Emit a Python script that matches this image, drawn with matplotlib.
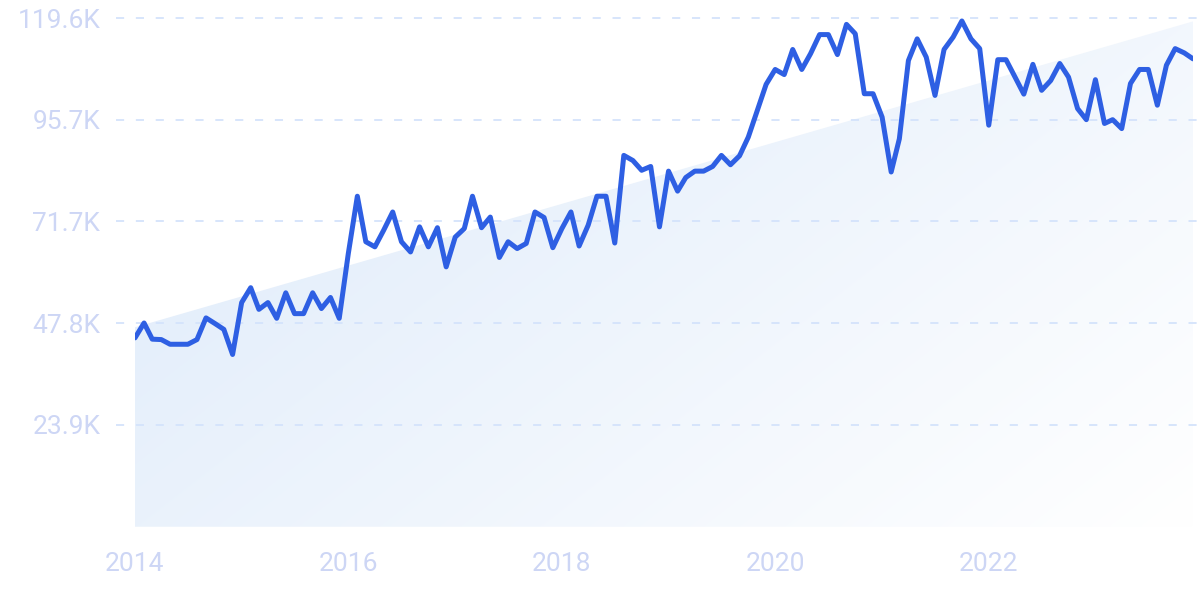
import numpy as np
import pandas as pd
import matplotlib
matplotlib.use("Agg")
import matplotlib.pyplot as plt
from matplotlib.patches import Polygon

# ---- data ----
start_month = "2014-01"
values_k = [
    44.4, 47.9, 44.1, 44.0, 42.9, 42.9, 42.9, 44.0, 49.1, 47.8, 46.4, 40.5,
    52.7, 56.2, 51.1, 52.7, 49.0, 55.0, 50.1, 50.1, 55.0, 51.3, 53.9, 49.0,
    64.2, 77.7, 67.0, 65.8, 69.7, 74.0, 67.0, 64.6, 70.5, 65.8, 70.3, 61.1,
    68.1, 70.1, 77.7, 70.3, 72.8, 63.3, 67.0, 65.4, 66.6, 74.0, 72.7, 65.6,
    70.1, 74.0, 66.0, 70.9, 77.7, 77.7, 66.7, 87.3, 86.1, 83.8, 84.7, 70.5,
    83.6, 78.9, 82.1, 83.6, 83.6, 84.7, 87.3, 85.1, 87.2, 91.6, 97.9, 104.0,
    107.5, 106.3, 112.2, 107.5, 111.2, 115.7, 115.7, 111.0, 118.1, 115.9, 101.8, 101.8,
    96.3, 83.4, 91.2, 109.6, 114.7, 110.4, 101.4, 112.2, 115.1, 118.9, 114.7, 112.4,
    94.4, 109.8, 109.8, 105.7, 101.7, 108.7, 102.6, 104.9, 108.9, 105.7, 98.3, 95.7,
    105.1, 94.8, 95.7, 93.6, 104.2, 107.5, 107.5, 99.1, 108.5, 112.4, 111.4, 110.0,
]
trend_k = [46.9, 118.8]          # start / end of the shaded trend band
ytick_values = [23920, 47840, 71760, 95680, 119600]
ytick_labels = ["23.9K", "47.8K", "71.7K", "95.7K", "119.6K"]
xtick_years = [2014, 2016, 2018, 2020, 2022]

dates = pd.date_range(start_month, periods=len(values_k), freq="MS")
values = np.array(values_k) * 1000

# ---- figure ----
W, H = 1200, 599
fig = plt.figure(figsize=(W / 100, H / 100), dpi=100)
left_px, right_px = 135, 1193
bottom_px = 526.75
ymax = 122000
px_per_unit = 101.75 / 23920
top_px = bottom_px - ymax * px_per_unit
ax = fig.add_axes([left_px / W, (H - bottom_px) / H,
                   (right_px - left_px) / W, (bottom_px - top_px) / H])

x0, x1 = dates[0], dates[-1]
ax.set_xlim(x0, x1)
ax.set_ylim(0, ymax)

# gradient fill under trend line
xn0 = matplotlib.dates.date2num(x0)
xn1 = matplotlib.dates.date2num(x1)
poly = Polygon([(xn0, 0), (xn0, trend_k[0] * 1000), (xn1, trend_k[1] * 1000), (xn1, 0)],
               closed=True, facecolor="none", edgecolor="none")
ax.add_patch(poly)
ny, nx = 200, 400
gx = np.linspace(0, 1, nx)[None, :]
gy = np.linspace(0, 1, ny)[:, None]   # 0 = top
t = np.clip(0.62 * gx + 0.38 * gy, 0, 1)
c0 = np.array([221, 234, 250]) / 255
c1 = np.array([255, 255, 255]) / 255
img = c0[None, None, :] * (1 - t[..., None]) + c1[None, None, :] * t[..., None]
im = ax.imshow(img, extent=[xn0, xn1, 0, trend_k[1] * 1000], origin="upper",
               aspect="auto", zorder=1, interpolation="bilinear")
im.set_clip_path(poly)

# grid lines
grid_color = "#d4e3fb"
for yv in ytick_values:
    ax.axhline(yv, xmin=-0.018, xmax=1.01, color=grid_color, lw=1.3,
               linestyle=(0, (4.5, 6.5)), clip_on=False, zorder=2)

ax.plot(dates, values, color="#2e5fe3", lw=3.6, solid_joinstyle="round",
        solid_capstyle="round", zorder=3)

for s in ax.spines.values():
    s.set_visible(False)

label_color = "#cdd6f5"
ax.set_yticks(ytick_values)
ax.set_yticklabels(ytick_labels)
ax.set_xticks([pd.Timestamp(f"{y}-01-01") for y in xtick_years])
ax.set_xticklabels([str(y) for y in xtick_years])
ax.tick_params(axis="y", length=0, pad=25, labelsize=19, labelcolor=label_color)
ax.tick_params(axis="x", length=0, pad=18, labelsize=19, labelcolor=label_color)
for lab in ax.get_xticklabels() + ax.get_yticklabels():
    lab.set_fontfamily("Roboto")

fig.savefig("out.png", dpi=100, facecolor="white")
